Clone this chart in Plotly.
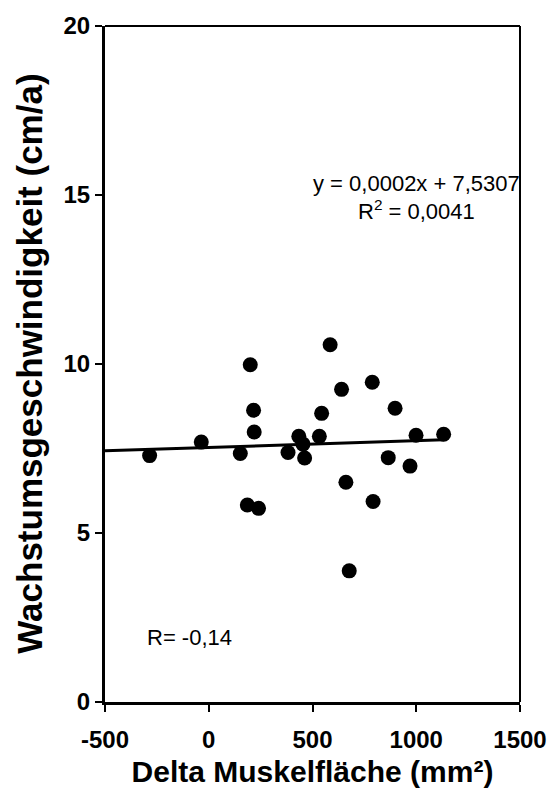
import plotly.graph_objects as go

# Data
delta_muskelflaeche = [-285, -36, 200, 216, 219, 152, 186, 240, 382, 434, 454, 462, 533,
                       544, 585, 640, 661, 677, 788, 792, 865, 898, 970, 999, 1132]
wachstum = [7.29, 7.69, 9.98, 8.63, 7.99, 7.35, 5.83, 5.73, 7.38, 7.86, 7.63, 7.22, 7.86,
            8.54, 10.57, 9.25, 6.50, 3.88, 9.46, 5.93, 7.23, 8.69, 6.98, 7.89, 7.92]

slope = 0.0002
intercept = 7.5307
trend_x = [-500, max(delta_muskelflaeche)]
trend_y = [slope * v + intercept for v in trend_x]

x_ticks = [-500, 0, 500, 1000, 1500]
y_ticks = [0, 5, 10, 15, 20]

FONT = "Liberation Sans, Arial, sans-serif"

fig = go.Figure()
fig.add_trace(go.Scatter(x=trend_x, y=trend_y, mode="lines",
                         line=dict(color="black", width=3), showlegend=False,
                         hoverinfo="skip"))
fig.add_trace(go.Scatter(x=delta_muskelflaeche, y=wachstum, mode="markers",
                         marker=dict(color="black", size=15, line=dict(width=0)),
                         showlegend=False))

fig.update_layout(
    width=559, height=801,
    margin=dict(l=105, r=30, t=16, b=99),
    paper_bgcolor="white", plot_bgcolor="white",
    font=dict(family=FONT, color="black"),
    xaxis=dict(range=[-500, 1500], tickvals=x_ticks, ticktext=[str(v) for v in x_ticks],
               showgrid=False, zeroline=False, showline=True, linecolor="black", linewidth=3,
               ticks="outside", ticklen=7, tickwidth=2, tickcolor="black",
               ticklabelstandoff=7,
               tickfont=dict(size=24, family=FONT, weight="bold"),
               title=dict(text="Delta Muskelfläche (mm²)", font=dict(size=30, weight="bold"),
                          standoff=10)),
    yaxis=dict(range=[0, 20], tickvals=y_ticks, ticktext=[str(v) for v in y_ticks],
               showgrid=False, zeroline=False, showline=True, linecolor="black", linewidth=3,
               ticks="outside", ticklen=7, tickwidth=2, tickcolor="black",
               tickfont=dict(size=24, family=FONT, weight="bold")),
    shapes=[
        dict(type="line", xref="x domain", yref="y domain", x0=0, x1=1, y0=1, y1=1,
             line=dict(color="black", width=2)),
        dict(type="line", xref="x domain", yref="y domain", x0=1, x1=1, y0=0, y1=1,
             line=dict(color="black", width=2)),
    ],
    annotations=[
        dict(x=-0.184, y=0.5, xref="x domain", yref="y domain", showarrow=False,
             textangle=-90, xanchor="center", yanchor="middle",
             text="Wachstumsgeschwindigkeit (cm/a)",
             font=dict(size=35, family=FONT, weight="bold")),
        dict(x=1000, y=15.35, xref="x", yref="y", showarrow=False,
             text="y = 0,0002x + 7,5307", font=dict(size=22, family=FONT)),
        dict(x=1000, y=14.55, xref="x", yref="y", showarrow=False,
             text="R<sup>2</sup> = 0,0041", font=dict(size=22, family=FONT)),
        dict(x=-95, y=1.9, xref="x", yref="y", showarrow=False,
             text="R= -0,14", font=dict(size=22, family=FONT)),
    ],
)

fig.write_html("out.html")
